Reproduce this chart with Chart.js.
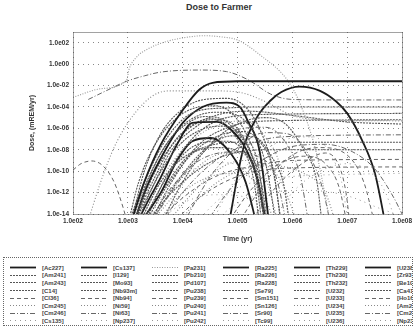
<!DOCTYPE html>
<html>
<head>
<meta charset="utf-8">
<script src="https://cdn.jsdelivr.net/npm/chart.js@4.4.1/dist/chart.umd.min.js"></script>
<style>
  body { margin: 0; background: #fff; font-family: "Liberation Sans", Arial, sans-serif; }
  #title { position: absolute; top: 2px; left: 0; width: 438px; text-align: center;
           font: bold 9px "Liberation Sans", Arial, sans-serif; color: #333; }
  #wrap { position: absolute; top: 0; left: 0; width: 415px; height: 245px; }
  #legend { position: absolute; top: 257px; left: 3px; width: 410px; height: 69px;
            border: 1px dotted #666; box-sizing: border-box; overflow: hidden;
            display: grid; grid-template-columns: repeat(6, 71px); grid-template-rows: repeat(8, 7.6px);
            grid-auto-flow: column; padding: 6px 0 0 6px; }
  .item { display: flex; align-items: center; height: 7.6px; white-space: nowrap; overflow: visible; }
  .item span { font: bold 6px "Liberation Sans", Arial, sans-serif; color: #444; margin-left: 6px; }
</style>
</head>
<body>
<div id="title">Dose to Farmer</div>
<div id="wrap"><canvas id="doseChart" width="415" height="245"></canvas></div>
<div id="legend"></div>
<script>
// tick values on the two log axes
const timeTicks = [1e2, 1e3, 1e4, 1e5, 1e6, 1e7, 1e8]
const doseTicks = [1e-14, 1e-12, 1e-10, 1e-8, 1e-6, 1e-4, 1e-2, 1, 1e2]

const nuclides = [
    '[Ac227]', '[Am241]', '[Am243]', '[C14]', '[Cl36]', '[Cm245]', '[Cm246]', '[Cs135]',
    '[Cs137]', '[I129]', '[Mo93]', '[Nb93m]', '[Nb94]', '[Ni59]', '[Ni63]', '[Np237]',
    '[Pa231]', '[Pb210]', '[Pd107]', '[Pu238]', '[Pu239]', '[Pu240]', '[Pu241]', '[Pu242]',
    '[Ra225]', '[Ra226]', '[Ra228]', '[Se79]', '[Sm151]', '[Sn126]', '[Sr90]', '[Tc99]',
    '[Th229]', '[Th230]', '[Th232]', '[U232]', '[U233]', '[U234]', '[U235]', '[U236]',
    '[U238]', '[Zr93]', '[Be10]', '[Ca41]', '[Ho166m]', '[Am242m]', '[Cm244]', '[Np236]'
]

// [time (yr), dose (mrem/yr)], one array per nuclide
const ac227 = [[1120, 1e-15], [2000, 1e-11], [4000, 3.2e-8], [1e4, 5e-5], [2e4, 4e-3], [3.5e4, 1.8e-2], [1e5, 2.5e-2], [1e6, 2.5e-2], [1e8, 2.5e-2]]
const am241 = [[1120, 1e-15], [2000, 1e-10], [4000, 3.2e-7], [1e4, 6.3e-5], [2.5e4, 5e-4], [6.3e4, 6.3e-4], [1.26e5, 1.6e-4], [2.5e5, 1e-6], [4.5e5, 1e-10], [6.3e5, 1e-15]]
const am243 = [[1260, 1e-15], [2500, 3.2e-11], [6300, 1.6e-7], [1.6e4, 1e-5], [4e4, 3.2e-5], [1e5, 1.6e-5], [2e5, 3.2e-7], [3.5e5, 1e-10], [5e5, 1e-15]]
const c14 = [[1000, 1e-15], [2000, 1e-11], [5000, 1e-7], [1.6e4, 3.2e-5], [6.3e4, 8e-5], [3.2e5, 1e-4], [1e8, 1e-4]]
const cl36 = [[100, 1.26e-10], [140, 5e-10], [220, 9e-10], [350, 3.2e-10], [560, 1e-11], [830, 3.2e-14], [1000, 1e-15]]
const cm245 = [[180, 1e-15], [320, 1e-11], [560, 1.6e-8], [1000, 3.2e-6], [2000, 2.5e-4], [3550, 2e-3], [6300, 3.2e-3], [3.2e4, 3.2e-3], [1e5, 2.5e-3], [3.2e5, 3.2e-4], [1e6, 1.6e-5], [3.2e6, 6.3e-6], [1e8, 5e-6]]
const cm246 = [[190, 5e-4], [400, 3.2e-3], [950, 2.5e-2], [2000, 8e-2], [4000, 0.18], [2e4, 0.28], [6.3e4, 0.2], [1.6e5, 3.2e-2], [4e5, 1.6e-3], [1e6, 5e-4], [1e7, 4.5e-4], [1e8, 4.5e-4]]
const cs135 = [[2000, 1e-15], [5000, 1e-12], [1.6e4, 1.6e-10], [5e4, 6.3e-10], [1.26e5, 1.6e-10], [2.5e5, 1e-12], [4e5, 1e-15]]
const cs137 = [[1260, 1e-15], [2000, 1e-12], [3800, 1e-9], [1e4, 3.2e-6], [2.3e4, 1e-4], [6.3e4, 2.5e-4], [1.1e5, 1e-4], [1.6e5, 3.2e-6], [2.5e5, 1e-8], [3.8e5, 1e-15]]
const i129 = [[1410, 1e-15], [3160, 1e-11], [7900, 1.6e-8], [2e4, 6.3e-7], [5e4, 1.6e-6], [1e5, 5e-7], [1.8e5, 3.2e-9], [2.8e5, 3.2e-12], [3.5e5, 1e-15]]
const mo93 = [[2500, 1e-15], [6300, 1e-11], [2e4, 3.2e-8], [7.9e4, 1.6e-6], [4e5, 5e-6], [1e8, 6.3e-6]]
const nb93m = [[1580, 1e-15], [4000, 1e-11], [1e4, 1.6e-9], [3.2e4, 2.5e-8], [1e5, 5e-8], [1e8, 5e-8]]
const nb94 = [[3160, 1e-15], [1e4, 3.2e-13], [4e4, 3.2e-11], [2e5, 3.2e-10], [1e6, 1e-9], [1e8, 1.26e-9]]
const ni59 = [[1580, 1e-15], [5000, 1e-10], [1.6e4, 1e-7], [5e4, 2.5e-6], [1.26e5, 5e-6], [3.2e5, 1.6e-7], [6.3e5, 1e-10], [8.9e5, 1e-15]]
const ni63 = [[2500, 1e-15], [1e4, 3.2e-11], [4e4, 6.3e-8], [1.26e5, 1e-6], [3.2e5, 1.26e-6], [7.9e5, 3.2e-8], [1.4e6, 3.2e-11], [2e6, 1e-15]]
const np237 = [[3.2e4, 1e-15], [1e5, 3.2e-11], [3.2e5, 1e-8], [1e6, 1.26e-7], [2.5e6, 1.6e-7], [5e6, 3.2e-9], [7.9e6, 1e-11], [1.05e7, 1e-15]]
const pa231 = [[100, 8e-4], [320, 5e-3], [950, 3.2e-2], [1050, 0.32], [1410, 4], [2500, 32], [5000, 126], [1e4, 280], [2.5e4, 450], [5e4, 350], [1e5, 180], [2.5e5, 8], [8.9e5, 1.6e-2], [1.6e6, 3.2e-5], [2.8e6, 3.2e-9], [5e6, 1e-15]]
const pb210 = [[2000, 1e-15], [6300, 1e-12], [2e4, 1.6e-10], [6.3e4, 3.2e-9], [3.2e5, 1e-8], [1e8, 1e-8]]
const pd107 = [[1780, 1e-15], [4000, 3.2e-12], [1e4, 3.2e-9], [2.5e4, 5e-8], [6.3e4, 6.3e-8], [1.26e5, 1e-8], [2.24e5, 3.2e-11], [3.2e5, 1e-15]]
const pu238 = [[1000, 1e-15], [1580, 1e-11], [3160, 3.2e-8], [7900, 1e-5], [2e4, 1e-4], [4e4, 1.26e-4], [7.9e4, 2.5e-5], [1.6e5, 1e-7], [2.5e5, 1e-10], [3.2e5, 1e-15]]
const pu239 = [[1e5, 1e-15], [3.2e5, 1e-11], [1e6, 3.2e-9], [3.2e6, 1.6e-8], [1e7, 3.2e-9], [2e7, 1e-11], [3.2e7, 1e-15]]
const pu240 = [[3160, 1e-15], [1e4, 1e-12], [3.2e4, 3.2e-11], [1e5, 6.3e-11], [2.5e5, 3.2e-12], [5e5, 1e-15]]
const pu241 = [[4000, 1e-15], [1e4, 1e-12], [4e4, 1e-9], [1.6e5, 3.2e-8], [6.3e5, 1.6e-7], [1e8, 2.5e-7]]
const pu242 = [[4e5, 1e-15], [1e6, 1e-12], [3.2e6, 1e-10], [1e7, 5e-10], [2.5e7, 1e-10], [5e7, 1e-12], [7.9e7, 1e-15]]
const ra225 = [[1410, 1e-15], [2500, 3.2e-13], [3800, 1.6e-11], [7900, 3.2e-8], [1.5e4, 3.2e-6], [4.2e4, 4e-6], [7.9e4, 6.3e-7], [1.45e5, 1e-8], [2.24e5, 3.2e-11], [3.4e5, 1e-15]]
const ra226 = [[1260, 1e-15], [2500, 1e-12], [6300, 1e-8], [1.6e4, 1e-6], [3.2e4, 6.3e-6], [6.3e4, 5e-6], [1.26e5, 1.6e-7], [2.24e5, 1e-10], [3.2e5, 1e-15]]
const ra228 = [[2000, 1e-15], [5000, 3.2e-12], [1.6e4, 6.3e-9], [5e4, 2.5e-7], [1.26e5, 5e-7], [2.5e5, 6.3e-8], [4.5e5, 1e-10], [6.3e5, 1e-15]]
const se79 = [[1260, 1e-15], [3160, 1e-10], [1e4, 3.2e-7], [4e4, 1.6e-5], [1.6e5, 4e-5], [1e6, 1.6e-5], [1e7, 4e-6], [1e8, 2.5e-6]]
const sm151 = [[6300, 1e-15], [2e4, 3.2e-13], [1e5, 3.2e-11], [1e6, 2e-10], [1e8, 2.5e-10]]
const sn126 = [[2500, 1e-15], [6300, 3.2e-13], [2e4, 3.2e-10], [6.3e4, 5e-9], [1.6e5, 2.5e-9], [3.2e5, 3.2e-11], [5.6e5, 1e-15]]
const sr90 = [[1e4, 1e-15], [3.2e4, 3.2e-11], [1e5, 1.6e-8], [3.2e5, 4e-7], [7.9e5, 3.2e-7], [2e6, 3.2e-9], [3.5e6, 3.2e-12], [5e6, 1e-15]]
const tc99 = [[1.6e4, 1e-15], [5e4, 3.2e-13], [2e5, 1e-11], [1e6, 3.2e-11], [1e7, 5e-11], [1e8, 6.3e-11]]
const th229 = [[1580, 1e-15], [4000, 1e-12], [7900, 1e-9], [1.5e4, 6.3e-8], [3.2e4, 1.26e-7], [7.9e4, 3.2e-9], [1.4e5, 1e-11], [2.24e5, 1e-15]]
const th230 = [[1120, 1e-15], [2000, 3.2e-12], [5000, 3.2e-8], [1.26e4, 3.2e-6], [2.5e4, 1.26e-5], [5e4, 8e-6], [1e5, 3.2e-7], [2e5, 3.2e-10], [2.8e5, 1e-15]]
const th232 = [[1580, 1e-15], [4000, 1e-12], [1.26e4, 2.5e-9], [4e4, 1.6e-8], [1e5, 8e-9], [2e5, 1.6e-10], [3.2e5, 1e-15]]
const u232 = [[4000, 1e-15], [1e4, 1e-11], [3.2e4, 3.2e-8], [1e5, 2.5e-6], [3.2e5, 1e-5], [7.9e5, 2e-6], [1.6e6, 1e-8], [2.8e6, 1e-11], [3.5e6, 1e-15]]
const u233 = [[6.3e4, 1e-15], [1.6e5, 1e-12], [5e5, 3.2e-10], [1.6e6, 2.5e-9], [4e6, 5e-10], [7.1e6, 3.2e-12], [1e7, 1e-15]]
const u234 = [[7900, 1e-15], [2.5e4, 1e-12], [1e5, 1e-10], [4e5, 3.2e-10], [1.6e6, 6.3e-11], [4e6, 1e-12], [6.3e6, 1e-15]]
const u235 = [[2240, 1e-15], [6300, 3.2e-12], [2e4, 1e-9], [7.9e4, 6.3e-9], [2.5e5, 2e-9], [5e5, 3.2e-11], [7.9e5, 1e-15]]
const u236 = [[3.2e4, 1e-15], [1e5, 1e-13], [4e5, 1e-12], [2e6, 1.6e-12], [1e7, 5e-13], [4e7, 3.2e-14], [1e8, 6.3e-15]]
const u238 = [[6.9e4, 1e-15], [1.26e5, 1e-8], [2.24e5, 1e-5], [4e5, 4e-4], [6.3e5, 2.5e-3], [1.35e6, 8e-3], [3.2e6, 3.2e-3], [6.3e6, 3.2e-4], [1e7, 2.5e-5], [1.86e7, 8e-8], [3.2e7, 6.3e-11], [5e7, 1e-15]]
const zr93 = [[1260, 1e-15], [2820, 1e-11], [7100, 6.3e-8], [1.6e4, 2.5e-6], [3.2e4, 8e-6], [5.6e4, 3.2e-6], [1.12e5, 3.2e-8], [2e5, 1e-11], [2.5e5, 1e-15]]
const be10 = [[2000, 1e-15], [5000, 3.2e-11], [1.6e4, 1.6e-7], [6.3e4, 1e-5], [3.2e5, 2e-5], [1e8, 2.5e-5]]
const ca41 = [[2500, 1e-15], [7900, 1e-11], [2.5e4, 1e-8], [7.9e4, 2e-7], [2e5, 1.6e-7], [4e5, 3.2e-9], [7.1e5, 3.2e-12], [8.9e5, 1e-15]]
const ho166m = [[1.6e5, 1e-15], [5e5, 3.2e-12], [1.6e6, 6.3e-10], [4e6, 5e-9], [7.1e6, 3.2e-10], [9.5e6, 1e-12], [1.12e7, 1e-15]]
const am242m = [[5000, 1e-15], [1.26e4, 3.2e-13], [4e4, 1e-10], [1.26e5, 1e-9], [3.2e5, 4e-10], [6.3e5, 1e-11], [1.26e6, 1e-15]]
const cm244 = [[2.5e4, 1e-15], [7.9e4, 3.2e-12], [3.2e5, 1.6e-9], [1.26e6, 2.5e-8], [4e6, 3.2e-8], [1.26e7, 6.3e-9], [3.2e7, 1.6e-10], [7.1e7, 3.2e-13], [1e8, 1e-14]]
const np236 = [[3160, 1e-15], [1e4, 1e-13], [4e4, 6.3e-13], [1.6e5, 3.2e-13], [3.2e5, 3.2e-14], [5e5, 1e-15]]

const curves = [
    ac227, am241, am243, c14, cl36, cm245, cm246, cs135,
    cs137, i129, mo93, nb93m, nb94, ni59, ni63, np237,
    pa231, pb210, pd107, pu238, pu239, pu240, pu241, pu242,
    ra225, ra226, ra228, se79, sm151, sn126, sr90, tc99,
    th229, th230, th232, u232, u233, u234, u235, u236,
    u238, zr93, be10, ca41, ho166m, am242m, cm244, np236
]

// line looks, by row of the legend table
const lineKinds = {
    thick:    { color: '#1c1c1c', width: 1.8, dash: [] },
    dense:    { color: '#555', width: 1.1, dash: [2, 1] },
    dash:     { color: '#666', width: 1, dash: [4, 3] },
    dot:      { color: '#888', width: 1.1, dash: [1, 2] },
    dashdot:  { color: '#666', width: 1, dash: [5, 2, 1, 2] },
    sparse:   { color: '#999', width: 1, dash: [1, 4] },
    dotlight: { color: '#999', width: 1.1, dash: [1, 1.5] }
}
const rowKinds = ['thick', 'dense', 'dense', 'dense', 'dash', 'dot', 'dashdot', 'sparse']

function kindOf(i) {
    if (i === 16) return lineKinds.dotlight
    return lineKinds[rowKinds[i % 8]]
}

function sci(v) {
    const e = Math.round(Math.log10(v))
    return '1.0e' + (e < 0 ? '-' : '') + String(Math.abs(e)).padStart(2, '0')
}

const datasets = nuclides.map((name, i) => {
    const k = kindOf(i)
    return {
        label: name,
        data: curves[i].map(p => ({ x: p[0], y: p[1] })),
        borderColor: k.color,
        borderWidth: k.width,
        borderDash: k.dash,
        pointRadius: 0,
        fill: false,
        cubicInterpolationMode: 'monotone'
    }
})

// dotted frame round the plot
const framePlugin = {
    id: 'frame',
    afterDatasetsDraw(chart) {
        const a = chart.chartArea
        const ctx = chart.ctx
        ctx.save()
        ctx.strokeStyle = '#444'
        ctx.lineWidth = 1
        ctx.setLineDash([1, 1])
        ctx.strokeRect(Math.round(a.left) + 0.5, Math.round(a.top) + 0.5, Math.round(a.right - a.left), Math.round(a.bottom - a.top))
        ctx.restore()
    }
}

const tickFont = { family: '"Liberation Sans", Arial, sans-serif', size: 6.5, weight: 'bold' }

new Chart(document.getElementById('doseChart').getContext('2d'), {
    type: 'line',
    data: { datasets },
    plugins: [framePlugin],
    options: {
        responsive: false,
        animation: false,
        layout: { padding: { top: 32, right: 12, left: 0, bottom: 0 } },
        plugins: {
            legend: { display: false },
            tooltip: { enabled: false }
        },
        scales: {
            x: {
                type: 'logarithmic',
                min: 1e2,
                max: 1e8,
                afterBuildTicks: scale => { scale.ticks = timeTicks.map(v => ({ value: v })) },
                afterFit: scale => { scale.height = 31 },
                ticks: { callback: v => sci(v), font: tickFont, color: '#333', autoSkip: false, maxRotation: 0, padding: 3 },
                grid: { color: '#888', drawTicks: false },
                border: { display: false, dash: [1, 4] },
                title: { display: true, text: 'Time (yr)', font: { family: '"Liberation Sans", Arial, sans-serif', size: 7, weight: 'bold' }, color: '#333', padding: { top: 2, bottom: 2 } }
            },
            y: {
                type: 'logarithmic',
                min: 1e-14,
                max: 1e3,
                afterBuildTicks: scale => { scale.ticks = doseTicks.map(v => ({ value: v })) },
                afterFit: scale => { scale.width = 73 },
                ticks: { callback: v => sci(v), font: tickFont, color: '#333', autoSkip: false, padding: 4 },
                grid: { color: '#888', drawTicks: false },
                border: { display: false, dash: [1, 4] },
                title: { display: true, text: 'Dose, (mREM/yr)', font: { family: '"Liberation Sans", Arial, sans-serif', size: 7, weight: 'bold' }, color: '#333', padding: { top: 28, bottom: 0 } }
            }
        }
    }
})

// legend table under the chart, column by column
const legend = document.getElementById('legend')
nuclides.forEach((name, i) => {
    const k = kindOf(i)
    const item = document.createElement('div')
    item.className = 'item'
    item.innerHTML = '<svg width="26" height="5"><line x1="0" y1="2.5" x2="26" y2="2.5" stroke="' + k.color +
        '" stroke-width="' + k.width + '" stroke-dasharray="' + (k.dash.length ? k.dash.join(' ') : 'none') + '"/></svg>' +
        '<span>' + name + '</span>'
    legend.appendChild(item)
})
</script>
</body>
</html>
